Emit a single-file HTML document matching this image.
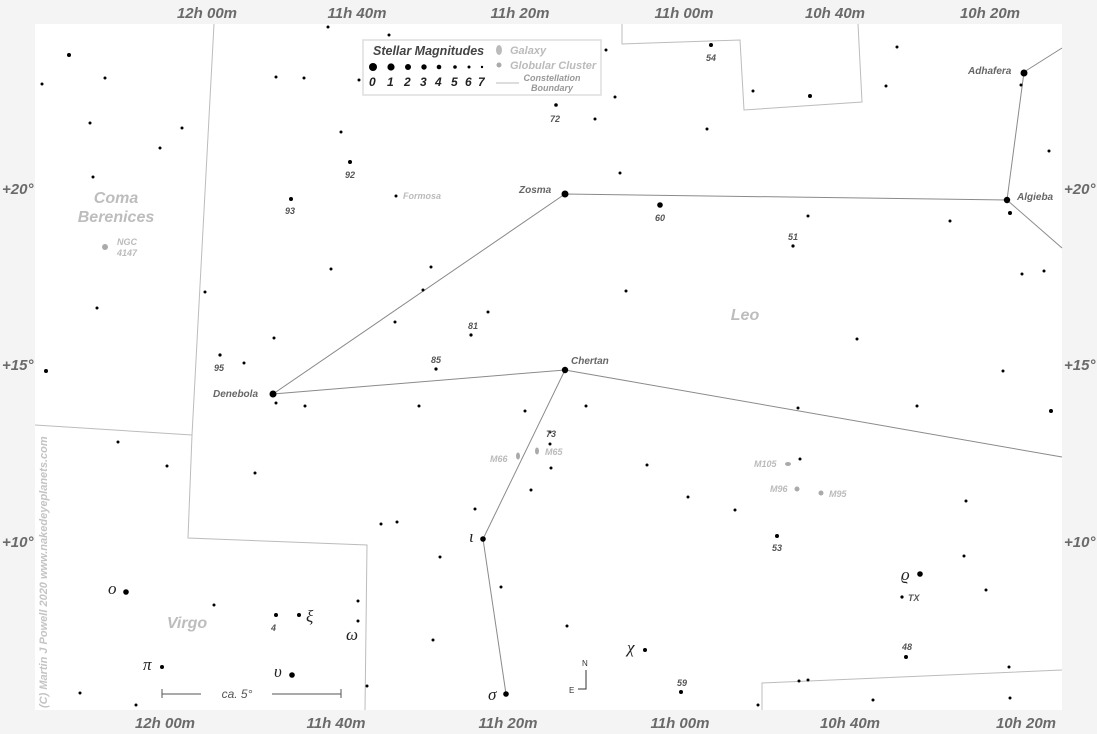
<!DOCTYPE html>
<html><head><meta charset="utf-8"><style>
html,body{margin:0;padding:0;background:#f4f4f4}
svg{display:block}
text{font-family:"Liberation Sans",sans-serif;font-style:italic;font-weight:bold}
.ax{fill:#6a6a6a;font-size:15px}
.nm{fill:#666;font-size:10px}
.num{fill:#555;font-size:9px}
.gr{fill:#bbb}
text.g{font-family:"Liberation Serif","DejaVu Serif",serif;font-weight:normal;font-style:italic;font-size:17px;fill:#222}
</style></head><body>
<svg width="1097" height="734" viewBox="0 0 1097 734">
<rect x="35" y="24" width="1027" height="686" fill="#fff"/>
<g stroke="#bcbcbc" stroke-width="1" fill="none">
<polyline points="214,24 192,435 188,538 367,545 365,710"/>
<polyline points="35,425 192,435"/>
<polyline points="622,24 622,44 740,40 744,110 862,102 858,24"/>
<polyline points="762,710 762,683 1062,670"/>
</g>
<g stroke="#8a8a8a" stroke-width="1" fill="none">
<polyline points="273,394 565,194 1007,200 1024,72 1062,48"/>
<polyline points="1007,200 1062,248"/>
<polyline points="273,394 565,370 1062,457"/>
<polyline points="565,370 483,539 506,694"/>
</g>
<g fill="#aaa">
<ellipse cx="105" cy="247" rx="3" ry="3"/>
<ellipse cx="518" cy="456" rx="2" ry="3.5"/>
<ellipse cx="537" cy="451" rx="2" ry="3.5"/>
<ellipse cx="788" cy="464" rx="3" ry="2"/>
<circle cx="797" cy="489" r="2.5"/>
<circle cx="821" cy="493" r="2.5"/>
</g>
<g fill="#000">
<circle cx="273" cy="394" r="3.5"/><circle cx="565" cy="194" r="3.5"/><circle cx="565" cy="370" r="3.2"/>
<circle cx="1007" cy="200" r="3.2"/><circle cx="1024" cy="73" r="3.5"/><circle cx="483" cy="539" r="2.8"/>
<circle cx="506" cy="694" r="2.8"/><circle cx="660" cy="205" r="2.8"/><circle cx="126" cy="592" r="2.8"/>
<circle cx="292" cy="675" r="2.8"/><circle cx="920" cy="574" r="2.8"/><circle cx="1010" cy="213" r="2"/>
<circle cx="162" cy="667" r="2"/><circle cx="276" cy="615" r="2"/><circle cx="299" cy="615" r="2"/>
<circle cx="645" cy="650" r="2"/><circle cx="906" cy="657" r="2"/><circle cx="681" cy="692" r="2"/>
<circle cx="777" cy="536" r="2"/><circle cx="350" cy="162" r="2"/><circle cx="291" cy="199" r="2"/>
<circle cx="810" cy="96" r="2"/><circle cx="1051" cy="411" r="2"/><circle cx="46" cy="371" r="2"/>
<circle cx="69" cy="55" r="2"/><circle cx="711" cy="45" r="2"/><circle cx="556" cy="105" r="1.8"/>
<circle cx="793" cy="246" r="1.6"/><circle cx="471" cy="335" r="1.6"/><circle cx="436" cy="369" r="1.6"/>
<circle cx="220" cy="355" r="1.6"/><circle cx="902" cy="597" r="1.6"/><circle cx="550" cy="444" r="1.5"/>
<circle cx="328" cy="27" r="1.5"/><circle cx="42" cy="84" r="1.5"/><circle cx="93" cy="177" r="1.5"/>
<circle cx="160" cy="148" r="1.5"/><circle cx="182" cy="128" r="1.5"/><circle cx="97" cy="308" r="1.5"/>
<circle cx="205" cy="292" r="1.5"/><circle cx="244" cy="363" r="1.5"/><circle cx="274" cy="338" r="1.5"/>
<circle cx="305" cy="406" r="1.5"/><circle cx="276" cy="403" r="1.5"/><circle cx="331" cy="269" r="1.5"/>
<circle cx="396" cy="196" r="1.5"/><circle cx="431" cy="267" r="1.5"/><circle cx="423" cy="290" r="1.5"/>
<circle cx="395" cy="322" r="1.5"/><circle cx="488" cy="312" r="1.5"/><circle cx="341" cy="132" r="1.5"/>
<circle cx="606" cy="50" r="1.5"/><circle cx="615" cy="97" r="1.5"/><circle cx="595" cy="119" r="1.5"/>
<circle cx="620" cy="173" r="1.5"/><circle cx="707" cy="129" r="1.5"/><circle cx="626" cy="291" r="1.5"/>
<circle cx="586" cy="406" r="1.5"/><circle cx="525" cy="411" r="1.5"/><circle cx="550" cy="432" r="1.5"/>
<circle cx="551" cy="468" r="1.5"/><circle cx="531" cy="490" r="1.5"/><circle cx="475" cy="509" r="1.5"/>
<circle cx="419" cy="406" r="1.5"/><circle cx="381" cy="524" r="1.5"/><circle cx="397" cy="522" r="1.5"/>
<circle cx="440" cy="557" r="1.5"/><circle cx="501" cy="587" r="1.5"/><circle cx="567" cy="626" r="1.5"/>
<circle cx="433" cy="640" r="1.5"/><circle cx="358" cy="621" r="1.5"/><circle cx="358" cy="601" r="1.5"/>
<circle cx="367" cy="686" r="1.5"/><circle cx="214" cy="605" r="1.5"/><circle cx="167" cy="466" r="1.5"/>
<circle cx="118" cy="442" r="1.5"/><circle cx="80" cy="693" r="1.5"/><circle cx="136" cy="705" r="1.5"/>
<circle cx="255" cy="473" r="1.5"/><circle cx="647" cy="465" r="1.5"/><circle cx="688" cy="497" r="1.5"/>
<circle cx="735" cy="510" r="1.5"/><circle cx="800" cy="459" r="1.5"/><circle cx="798" cy="408" r="1.5"/>
<circle cx="857" cy="339" r="1.5"/><circle cx="917" cy="406" r="1.5"/><circle cx="1003" cy="371" r="1.5"/>
<circle cx="966" cy="501" r="1.5"/><circle cx="964" cy="556" r="1.5"/><circle cx="986" cy="590" r="1.5"/>
<circle cx="1009" cy="667" r="1.5"/><circle cx="1010" cy="698" r="1.5"/><circle cx="799" cy="681" r="1.5"/>
<circle cx="808" cy="680" r="1.5"/><circle cx="873" cy="700" r="1.5"/><circle cx="758" cy="705" r="1.5"/>
<circle cx="808" cy="216" r="1.5"/><circle cx="950" cy="221" r="1.5"/><circle cx="1022" cy="274" r="1.5"/>
<circle cx="1044" cy="271" r="1.5"/><circle cx="1049" cy="151" r="1.5"/><circle cx="1021" cy="85" r="1.5"/>
<circle cx="897" cy="47" r="1.5"/><circle cx="886" cy="86" r="1.5"/><circle cx="753" cy="91" r="1.5"/>
<circle cx="90" cy="123" r="1.5"/><circle cx="105" cy="78" r="1.5"/><circle cx="276" cy="77" r="1.5"/>
<circle cx="304" cy="78" r="1.5"/><circle cx="389" cy="35" r="1.5"/><circle cx="359" cy="80" r="1.5"/>
</g>
<rect x="363" y="40" width="238" height="55" fill="#fff" stroke="#ddd" stroke-width="1.5"/>
<text x="373" y="55" style="font-size:12.5px;fill:#444">Stellar Magnitudes</text>
<g fill="#000"><circle cx="373" cy="67" r="4"/><circle cx="391" cy="67" r="3.6"/><circle cx="408" cy="67" r="3"/><circle cx="424" cy="67" r="2.7"/><circle cx="439" cy="67" r="2.3"/><circle cx="455" cy="67" r="1.8"/><circle cx="469" cy="67" r="1.5"/><circle cx="482" cy="67" r="1.2"/></g>
<text y="86" style="font-size:12px;fill:#222"><tspan x="369">0</tspan><tspan x="387">1</tspan><tspan x="404">2</tspan><tspan x="420">3</tspan><tspan x="435">4</tspan><tspan x="451">5</tspan><tspan x="465">6</tspan><tspan x="478">7</tspan></text>
<ellipse cx="499" cy="50" rx="3" ry="5" fill="#bbb"/>
<circle cx="499" cy="65" r="2.5" fill="#aaa"/>
<text x="510" y="54" style="font-size:11px;fill:#bbb">Galaxy</text>
<text x="510" y="69" style="font-size:11px;fill:#bbb">Globular Cluster</text>
<line x1="496" y1="83" x2="519" y2="83" stroke="#bbb"/>
<text x="552" y="81" text-anchor="middle" style="font-size:9px;fill:#999">Constellation</text>
<text x="552" y="91" text-anchor="middle" style="font-size:9px;fill:#999">Boundary</text>
<g class="ax">
<text x="207" y="18" text-anchor="middle">12h 00m</text><text x="357" y="18" text-anchor="middle">11h 40m</text>
<text x="520" y="18" text-anchor="middle">11h 20m</text><text x="684" y="18" text-anchor="middle">11h 00m</text>
<text x="835" y="18" text-anchor="middle">10h 40m</text><text x="990" y="18" text-anchor="middle">10h 20m</text>
<text x="165" y="728" text-anchor="middle">12h 00m</text><text x="336" y="728" text-anchor="middle">11h 40m</text>
<text x="508" y="728" text-anchor="middle">11h 20m</text><text x="680" y="728" text-anchor="middle">11h 00m</text>
<text x="850" y="728" text-anchor="middle">10h 40m</text><text x="1026" y="728" text-anchor="middle">10h 20m</text>
<text x="2" y="194">+20°</text><text x="2" y="370">+15°</text><text x="2" y="547">+10°</text>
<text x="1064" y="194">+20°</text><text x="1064" y="370">+15°</text><text x="1064" y="547">+10°</text>
</g>
<g class="nm">
<text x="519" y="193">Zosma</text><text x="1017" y="200">Algieba</text><text x="968" y="74">Adhafera</text>
<text x="571" y="364">Chertan</text><text x="213" y="397">Denebola</text>
</g>
<g class="num">
<text x="550" y="122">72</text><text x="706" y="61">54</text><text x="345" y="178">92</text><text x="285" y="214">93</text>
<text x="655" y="221">60</text><text x="788" y="240">51</text><text x="468" y="329">81</text><text x="431" y="363">85</text>
<text x="214" y="371">95</text><text x="546" y="437">73</text><text x="772" y="551">53</text><text x="271" y="631">4</text>
<text x="677" y="686">59</text><text x="902" y="650">48</text><text x="908" y="601">TX</text>
</g>
<g style="font-size:9px" class="gr">
<text x="403" y="199">Formosa</text><text x="117" y="245">NGC</text><text x="117" y="256">4147</text>
<text x="490" y="462">M66</text><text x="545" y="455">M65</text><text x="754" y="467">M105</text>
<text x="770" y="492">M96</text><text x="829" y="497">M95</text>
</g>
<g class="gr" style="font-size:16px;fill:#bdbdbd">
<text x="116" y="203" text-anchor="middle">Coma</text><text x="116" y="222" text-anchor="middle">Berenices</text>
<text x="745" y="320" text-anchor="middle">Leo</text><text x="187" y="628" text-anchor="middle">Virgo</text>
</g>
<text class="g" x="108" y="594">ο</text><text class="g" x="143" y="670">π</text><text class="g" x="274" y="677">υ</text><text class="g" x="306" y="622">ξ</text>
<text class="g" x="346" y="640">ω</text><text class="g" x="469" y="542">ι</text><text class="g" x="488" y="700">σ</text><text class="g" x="627" y="653">χ</text>
<text class="g" x="901" y="580">ϱ</text>
<g stroke="#555"><line x1="162" y1="694" x2="201" y2="694"/><line x1="272" y1="694" x2="341" y2="694"/><line x1="162" y1="689" x2="162" y2="698"/><line x1="341" y1="689" x2="341" y2="698"/></g>
<text x="237" y="698" text-anchor="middle" style="font-size:12px;fill:#555;font-weight:normal">ca. 5°</text>
<polyline points="586,670 586,689 578,689" fill="none" stroke="#333"/>
<text x="582" y="666" style="font-size:8px;fill:#333;font-style:normal;font-weight:normal">N</text>
<text x="569" y="693" style="font-size:8px;fill:#333;font-style:normal;font-weight:normal">E</text>
<text transform="translate(47,708) rotate(-90)" style="font-size:11px;fill:#c4c4c4">(C) Martin J Powell  2020  www.nakedeyeplanets.com</text>
</svg>
</body></html>
